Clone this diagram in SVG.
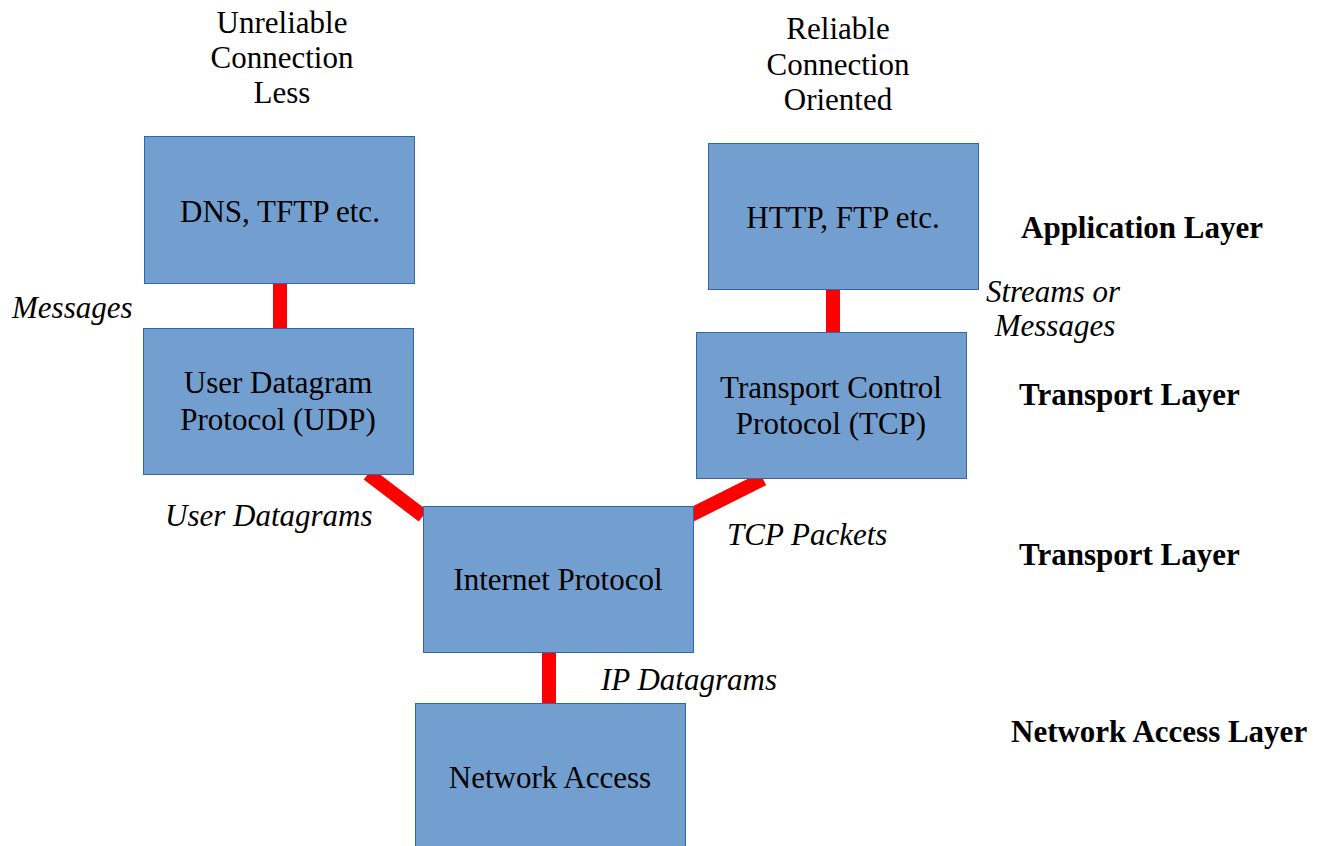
<svg xmlns="http://www.w3.org/2000/svg" width="1320" height="846" viewBox="0 0 1320 846">
  <style>
    .box { fill: #729fcf; stroke: #3465a4; stroke-width: 1; }
    .link { stroke: #ff0000; stroke-width: 14; fill: none; }
    .t { font-family: "Liberation Serif", "Times New Roman", serif; font-size: 31px; fill: #000; }
    .c { text-anchor: middle; }
    .i { font-style: italic; }
    .b { font-weight: bold; }
  </style>
  <rect width="1320" height="846" fill="#ffffff"/>

  <!-- connectors -->
  <g id="connectors">
    <line class="link" x1="280" y1="283" x2="280" y2="328"/>
    <line class="link" x1="833" y1="289" x2="833" y2="332"/>
    <line class="link" x1="368" y1="474" x2="423" y2="516"/>
    <line class="link" x1="763" y1="479" x2="687" y2="517"/>
    <line class="link" x1="549" y1="653" x2="549" y2="703"/>
  </g>

  <!-- nodes -->
  <g id="dns">
    <rect class="box" x="144.5" y="136.5" width="270" height="147"/>
    <text class="t c" x="280" y="222">DNS, TFTP etc.</text>
  </g>
  <g id="udp">
    <rect class="box" x="143.5" y="328.5" width="270" height="146"/>
    <text class="t c" x="278" y="393">User Datagram</text>
    <text class="t c" x="278" y="430">Protocol (UDP)</text>
  </g>
  <g id="http">
    <rect class="box" x="708.5" y="143.5" width="270" height="146"/>
    <text class="t c" x="843" y="228">HTTP, FTP etc.</text>
  </g>
  <g id="tcp">
    <rect class="box" x="696.5" y="332.5" width="270" height="146"/>
    <text class="t c" x="831" y="398">Transport Control</text>
    <text class="t c" x="831" y="434">Protocol (TCP)</text>
  </g>
  <g id="ip">
    <rect class="box" x="423.5" y="506.5" width="270" height="146"/>
    <text class="t c" x="558" y="590">Internet Protocol</text>
  </g>
  <g id="network-access">
    <rect class="box" x="415.5" y="703.5" width="270" height="160"/>
    <text class="t c" x="550" y="788">Network Access</text>
  </g>

  <!-- column headings -->
  <g id="heading-udp">
    <text class="t c" x="282" y="33">Unreliable</text>
    <text class="t c" x="282" y="68">Connection</text>
    <text class="t c" x="282" y="103">Less</text>
  </g>
  <g id="heading-tcp">
    <text class="t c" x="838" y="39">Reliable</text>
    <text class="t c" x="838" y="75">Connection</text>
    <text class="t c" x="838" y="110">Oriented</text>
  </g>

  <!-- data unit labels -->
  <g id="data-labels">
    <text class="t i" x="12" y="318">Messages</text>
    <text class="t i c" x="1053" y="302">Streams or</text>
    <text class="t i c" x="1055" y="336">Messages</text>
    <text class="t i" x="165" y="526">User Datagrams</text>
    <text class="t i" x="727" y="545">TCP Packets</text>
    <text class="t i" x="601" y="690">IP Datagrams</text>
  </g>

  <!-- layer labels -->
  <g id="layer-labels">
    <text class="t b" x="1021" y="238">Application Layer</text>
    <text class="t b" x="1019" y="405">Transport Layer</text>
    <text class="t b" x="1019" y="565">Transport Layer</text>
    <text class="t b" x="1011" y="742">Network Access Layer</text>
  </g>
</svg>
